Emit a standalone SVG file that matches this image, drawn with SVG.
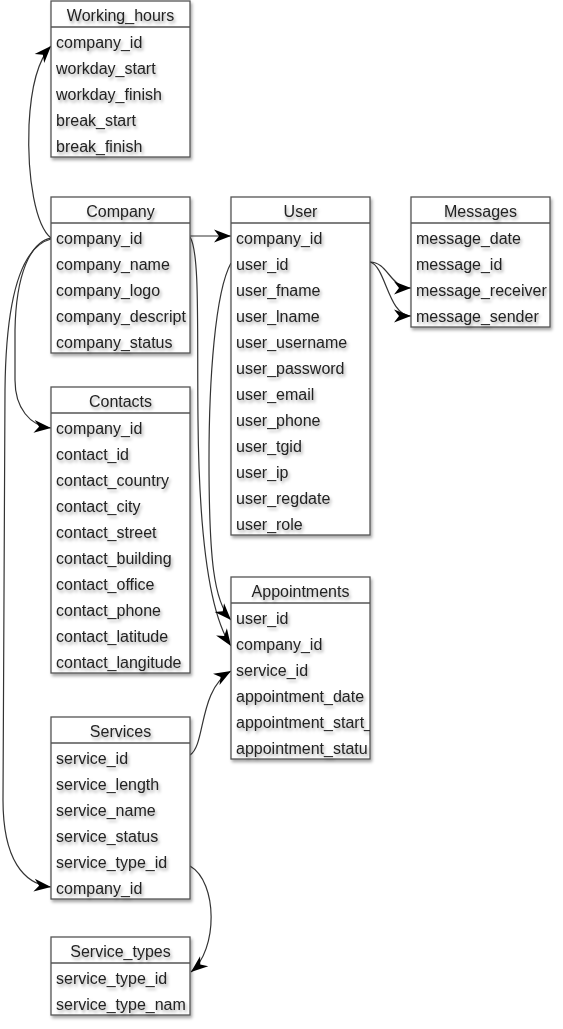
<svg xmlns="http://www.w3.org/2000/svg" width="563" height="1029" viewBox="0 0 563 1029">
<style>
.box{fill:#fff;stroke:#555;stroke-width:1.3}
.hl{stroke:#555;stroke-width:1.3}
.t{font-family:"Liberation Sans",Arial,sans-serif;font-size:16px;fill:#222}
.ttl{text-anchor:middle}
.c{fill:none;stroke:#333;stroke-width:1.2}
</style>
<defs>
<filter id="sh" x="-10%" y="-10%" width="130%" height="130%">
<feDropShadow dx="1.5" dy="2.5" stdDeviation="1.5" flood-color="#000" flood-opacity="0.35"/>
</filter>
<marker id="ar" markerUnits="userSpaceOnUse" markerWidth="20" markerHeight="16" refX="17" refY="6.5" orient="auto" overflow="visible">
<path d="M0,0 L17,6.5 L0,13 L5,6.5 Z" fill="#000"/>
</marker>
<clipPath id="cA"><rect x="51" y="0" width="139" height="1029"/></clipPath>
<clipPath id="cB"><rect x="231" y="0" width="139" height="1029"/></clipPath>
<clipPath id="cC"><rect x="411" y="0" width="139" height="1029"/></clipPath>
</defs>

<g id="connectors">
<path class="c" d="M51,238 C36,226 27,180 29,125 C31,85 38,60 51,46" marker-end="url(#ar)"/>
<path class="c" d="M190,236 L231,236" marker-end="url(#ar)"/>
<path class="c" d="M51,238 C30,242 16,275 15,330 L15,380 C15,408 30,426 51,428" marker-end="url(#ar)"/>
<path class="c" d="M51,239 C24,246 6,290 5,390 L3,800 C3,860 24,884 51,887" marker-end="url(#ar)"/>
<path class="c" d="M190,237 C200,252 197,330 198,420 C199,530 208,612 231,646" marker-end="url(#ar)"/>
<path class="c" d="M231,263 C215,292 209,380 209,460 C209,560 214,602 231,620" marker-end="url(#ar)"/>
<path class="c" d="M190,755 C206,745 198,690 231,671" marker-end="url(#ar)"/>
<path class="c" d="M370,262 C388,262 390,288 411,288" marker-end="url(#ar)"/>
<path class="c" d="M370,262 C386,266 388,316 411,316" marker-end="url(#ar)"/>
<path class="c" d="M190,866 C218,882 218,950 191,972" marker-end="url(#ar)"/>
</g>

<g id="working_hours">
<rect class="box" x="51" y="1" width="139" height="156" filter="url(#sh)"/>
<line class="hl" x1="51" y1="27" x2="190" y2="27"/>
<g filter="url(#sh)" clip-path="url(#cA)">
<text class="t ttl" x="120.5" y="21">Working_hours</text>
<text class="t" x="56" y="48">company_id</text>
<text class="t" x="56" y="74">workday_start</text>
<text class="t" x="56" y="100">workday_finish</text>
<text class="t" x="56" y="126">break_start</text>
<text class="t" x="56" y="152">break_finish</text>
</g>
</g>

<g id="company">
<rect class="box" x="51" y="197" width="139" height="156" filter="url(#sh)"/>
<line class="hl" x1="51" y1="223" x2="190" y2="223"/>
<g filter="url(#sh)" clip-path="url(#cA)">
<text class="t ttl" x="120.5" y="217">Company</text>
<text class="t" x="56" y="244">company_id</text>
<text class="t" x="56" y="270">company_name</text>
<text class="t" x="56" y="296">company_logo</text>
<text class="t" x="56" y="322">company_descript</text>
<text class="t" x="56" y="348">company_status</text>
</g>
</g>

<g id="user">
<rect class="box" x="231" y="197" width="139" height="338" filter="url(#sh)"/>
<line class="hl" x1="231" y1="223" x2="370" y2="223"/>
<g filter="url(#sh)" clip-path="url(#cB)">
<text class="t ttl" x="300.5" y="217">User</text>
<text class="t" x="236" y="244">company_id</text>
<text class="t" x="236" y="270">user_id</text>
<text class="t" x="236" y="296">user_fname</text>
<text class="t" x="236" y="322">user_lname</text>
<text class="t" x="236" y="348">user_username</text>
<text class="t" x="236" y="374">user_password</text>
<text class="t" x="236" y="400">user_email</text>
<text class="t" x="236" y="426">user_phone</text>
<text class="t" x="236" y="452">user_tgid</text>
<text class="t" x="236" y="478">user_ip</text>
<text class="t" x="236" y="504">user_regdate</text>
<text class="t" x="236" y="530">user_role</text>
</g>
</g>

<g id="messages">
<rect class="box" x="411" y="197" width="139" height="130" filter="url(#sh)"/>
<line class="hl" x1="411" y1="223" x2="550" y2="223"/>
<g filter="url(#sh)" clip-path="url(#cC)">
<text class="t ttl" x="480.5" y="217">Messages</text>
<text class="t" x="416" y="244">message_date</text>
<text class="t" x="416" y="270">message_id</text>
<text class="t" x="416" y="296">message_receiver</text>
<text class="t" x="416" y="322">message_sender</text>
</g>
</g>

<g id="contacts">
<rect class="box" x="51" y="387" width="139" height="286" filter="url(#sh)"/>
<line class="hl" x1="51" y1="413" x2="190" y2="413"/>
<g filter="url(#sh)" clip-path="url(#cA)">
<text class="t ttl" x="120.5" y="407">Contacts</text>
<text class="t" x="56" y="434">company_id</text>
<text class="t" x="56" y="460">contact_id</text>
<text class="t" x="56" y="486">contact_country</text>
<text class="t" x="56" y="512">contact_city</text>
<text class="t" x="56" y="538">contact_street</text>
<text class="t" x="56" y="564">contact_building</text>
<text class="t" x="56" y="590">contact_office</text>
<text class="t" x="56" y="616">contact_phone</text>
<text class="t" x="56" y="642">contact_latitude</text>
<text class="t" x="56" y="668">contact_langitude</text>
</g>
</g>

<g id="appointments">
<rect class="box" x="231" y="577" width="139" height="182" filter="url(#sh)"/>
<line class="hl" x1="231" y1="603" x2="370" y2="603"/>
<g filter="url(#sh)" clip-path="url(#cB)">
<text class="t ttl" x="300.5" y="597">Appointments</text>
<text class="t" x="236" y="624">user_id</text>
<text class="t" x="236" y="650">company_id</text>
<text class="t" x="236" y="676">service_id</text>
<text class="t" x="236" y="702">appointment_date</text>
<text class="t" x="236" y="728">appointment_start_</text>
<text class="t" x="236" y="754">appointment_statu</text>
</g>
</g>

<g id="services">
<rect class="box" x="51" y="717" width="139" height="182" filter="url(#sh)"/>
<line class="hl" x1="51" y1="743" x2="190" y2="743"/>
<g filter="url(#sh)" clip-path="url(#cA)">
<text class="t ttl" x="120.5" y="737">Services</text>
<text class="t" x="56" y="764">service_id</text>
<text class="t" x="56" y="790">service_length</text>
<text class="t" x="56" y="816">service_name</text>
<text class="t" x="56" y="842">service_status</text>
<text class="t" x="56" y="868">service_type_id</text>
<text class="t" x="56" y="894">company_id</text>
</g>
</g>

<g id="service_types">
<rect class="box" x="51" y="937" width="139" height="78" filter="url(#sh)"/>
<line class="hl" x1="51" y1="963" x2="190" y2="963"/>
<g filter="url(#sh)" clip-path="url(#cA)">
<text class="t ttl" x="120.5" y="957">Service_types</text>
<text class="t" x="56" y="984">service_type_id</text>
<text class="t" x="56" y="1010">service_type_nam</text>
</g>
</g>
</svg>
